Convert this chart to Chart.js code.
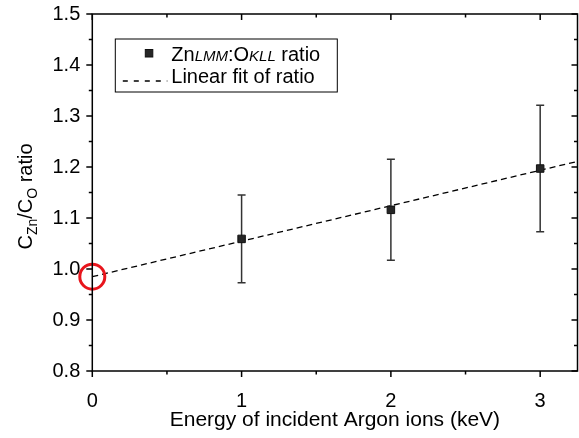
<!DOCTYPE html>
<html>
<head>
<meta charset="utf-8">
<script src="https://cdn.jsdelivr.net/npm/chart.js@4.4.1/dist/chart.umd.min.js"></script>
<style>
  body { margin: 0; background: #fff; }
  #wrap { width: 579px; height: 438px; }
</style>
</head>
<body>
<div id="wrap"><canvas id="myChart" width="579" height="438"></canvas></div>
<script>
// Zn LMM : O KLL Auger ratio against Ar+ energy
const energy = [1, 2, 3];
const ratio = [1.059, 1.116, 1.197];
const ratioErr = [0.086, 0.099, 0.124];

// straight-line fit, end points over the full x range
const fitEnergy = [0, 3.25];
const fitRatio = [0.985, 1.211];

const xTicks = [0, 1, 2, 3];
const yTicks = [0.8, 0.9, 1.0, 1.1, 1.2, 1.3, 1.4, 1.5];

const FONT = "'Liberation Sans', Arial, sans-serif";
Chart.defaults.font.family = FONT;
Chart.defaults.font.size = 20;
Chart.defaults.color = '#000';

function text(ctx, parts, x, y) {
    // parts: [string, size, italic, dy]
    let cx = x;
    parts.forEach(([s, size, italic, dy]) => {
        ctx.font = (italic ? 'italic ' : '') + size + 'px ' + FONT;
        ctx.fillText(s, cx, y + (dy || 0));
        cx += ctx.measureText(s).width;
    });
    return cx - x;
}

function width(ctx, parts) {
    let w = 0;
    parts.forEach(([s, size, italic]) => {
        ctx.font = (italic ? 'italic ' : '') + size + 'px ' + FONT;
        w += ctx.measureText(s).width;
    });
    return w;
}

// no extra room for overhanging tick labels, the frame is fixed
function noPad(s) {
    s.paddingLeft = 0; s.paddingRight = 0;
    s.paddingTop = 0; s.paddingBottom = 0;
}

const decor = {
    id: 'decor',
    beforeDatasetsDraw(chart) {
        // error bars go under the square markers
        const {ctx, scales: {x, y}} = chart;
        ctx.save();
        ctx.strokeStyle = '#333';
        ctx.lineWidth = 1.5;
        energy.forEach((e, i) => {
            const px = x.getPixelForValue(e);
            const top = y.getPixelForValue(ratio[i] + ratioErr[i]);
            const bot = y.getPixelForValue(ratio[i] - ratioErr[i]);
            ctx.beginPath();
            ctx.moveTo(px, top); ctx.lineTo(px, bot);
            ctx.moveTo(px - 4, top); ctx.lineTo(px + 4, top);
            ctx.moveTo(px - 4, bot); ctx.lineTo(px + 4, bot);
            ctx.stroke();
        });
        ctx.restore();
    },
    afterDraw(chart) {
        const {ctx, chartArea: a, scales: {x, y}} = chart;
        ctx.save();

        // frame and ticks: outward on left/bottom, inward on top/right
        ctx.strokeStyle = '#000';
        ctx.lineWidth = 1.5;
        ctx.strokeRect(a.left, a.top, a.right - a.left, a.bottom - a.top);
        ctx.beginPath();
        const xMinor = xTicks.map(v => v + 0.5).filter(v => v <= x.max);
        const yMinor = yTicks.slice(0, -1).map(v => v + 0.05);
        [[xTicks, 6], [xMinor, 3.5]].forEach(([vals, len]) => vals.forEach(v => {
            const px = x.getPixelForValue(v);
            ctx.moveTo(px, a.bottom); ctx.lineTo(px, a.bottom + len);
            ctx.moveTo(px, a.top); ctx.lineTo(px, a.top + len);
        }));
        [[yTicks, 6], [yMinor, 3.5]].forEach(([vals, len]) => vals.forEach(v => {
            const py = y.getPixelForValue(v);
            ctx.moveTo(a.left - len, py); ctx.lineTo(a.left, py);
            ctx.moveTo(a.right - len, py); ctx.lineTo(a.right, py);
        }));
        ctx.stroke();

        // y axis title with subscripts
        const yTitle = [['C', 20], ['Zn', 14, false, 5], ['/C', 20], ['O', 14, false, 5], [' ratio', 20]];
        ctx.fillStyle = '#000';
        ctx.textBaseline = 'alphabetic';
        ctx.textAlign = 'left';
        ctx.save();
        ctx.translate(31.5, (a.top + a.bottom) / 2 + 4);
        ctx.rotate(-Math.PI / 2);
        text(ctx, yTitle, -width(ctx, yTitle) / 2, 0);
        ctx.restore();

        // legend
        const lx = a.left + 23, ly = a.top + 25;
        ctx.lineWidth = 1;
        ctx.strokeRect(lx, ly, 222, 53);
        ctx.fillStyle = '#262626';
        ctx.fillRect(lx + 30, ly + 10.5, 7.5, 7.5);
        ctx.strokeStyle = '#111';
        ctx.strokeRect(lx + 30, ly + 10.5, 7.5, 7.5);
        ctx.fillStyle = '#000';
        text(ctx, [['Zn', 20], ['LMM', 15, true], [':O', 20], ['KLL', 15, true], [' ratio', 20]], lx + 56, ly + 21.5);
        ctx.strokeStyle = '#000';
        ctx.lineWidth = 1.3;
        ctx.setLineDash([5, 6]);
        ctx.beginPath();
        ctx.moveTo(lx + 7.5, ly + 42); ctx.lineTo(lx + 52, ly + 42);
        ctx.stroke();
        ctx.setLineDash([]);
        text(ctx, [['Linear fit of ratio', 20]], lx + 56, ly + 43.5);

        ctx.restore();
    }
};

new Chart(document.getElementById('myChart').getContext('2d'), {
    type: 'scatter',
    data: {
        datasets: [{
            label: 'ZnLMM:OKLL ratio',
            data: energy.map((e, i) => ({x: e, y: ratio[i]})),
            pointStyle: 'rect',
            pointRadius: 5.3,
            backgroundColor: '#262626',
            borderColor: '#111',
            borderWidth: 1,
            order: 1
        }, {
            label: 'Linear fit of ratio',
            data: fitEnergy.map((e, i) => ({x: e, y: fitRatio[i]})),
            showLine: true,
            pointRadius: 0,
            borderColor: '#000',
            borderWidth: 1.3,
            borderDash: [6, 4],
            order: 3
        }, {
            label: 'intercept',
            data: [{x: fitEnergy[0], y: fitRatio[0]}],
            pointStyle: 'circle',
            pointRadius: 12.5,
            borderWidth: 3,
            borderColor: '#e8151c',
            backgroundColor: 'rgba(0,0,0,0)',
            clip: false,
            order: 2
        }]
    },
    options: {
        responsive: false,
        animation: false,
        layout: {autoPadding: false, padding: {top: 14, right: 1.5, bottom: 0, left: 0}},
        plugins: {legend: {display: false}, tooltip: {enabled: false}},
        scales: {
            x: {
                type: 'linear',
                min: 0,
                max: 3.25,
                afterFit: s => { s.height = 67; noPad(s); },
                afterBuildTicks: s => { s.ticks = xTicks.map(v => ({value: v})); },
                ticks: {padding: 18, font: {size: 20}},
                grid: {display: false, drawTicks: false},
                border: {display: false},
                title: {
                    display: true,
                    text: 'Energy of incident Argon ions (keV)',
                    font: {size: 21},
                    padding: {top: 0, bottom: 5}
                }
            },
            y: {
                min: 0.8,
                max: 1.5,
                afterFit: s => { s.width = 92.3; noPad(s); },
                afterBuildTicks: s => { s.ticks = yTicks.map(v => ({value: v})); },
                ticks: {padding: 12, font: {size: 20}, callback: v => v.toFixed(1)},
                grid: {display: false, drawTicks: false},
                border: {display: false}
            }
        }
    },
    plugins: [decor]
});
</script>
</body>
</html>
